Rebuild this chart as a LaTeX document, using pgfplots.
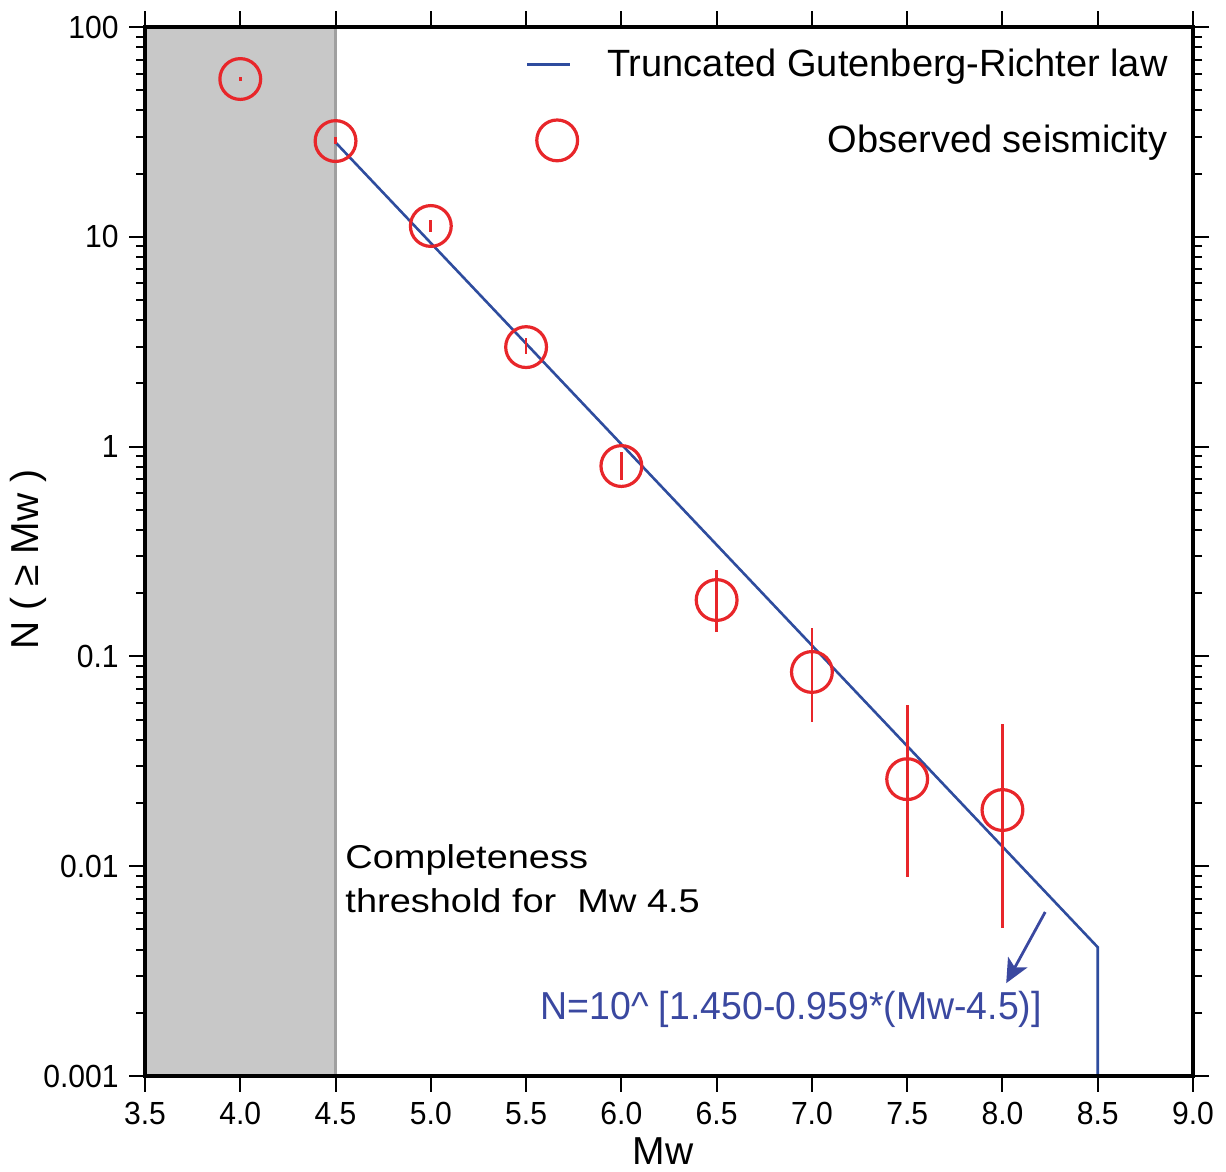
\documentclass[border=0pt]{standalone}
\usepackage{fontspec}
\setmainfont{Liberation Sans}
\newfontfamily\tickfont[FakeStretch=0.94]{Liberation Sans}
\newfontfamily\annfont[FakeStretch=1.15]{Liberation Sans}
\newfontfamily\formfont[FakeStretch=0.96]{Liberation Sans}
\usepackage{pgfplots}
\pgfplotsset{compat=1.18}
\usetikzlibrary{arrows.meta}
\definecolor{obsred}{HTML}{E8262A}
\definecolor{grblue}{HTML}{2E4C9E}
\definecolor{txtblue}{HTML}{3A48A0}
\definecolor{shade}{HTML}{C8C8C8}
\definecolor{shadeline}{HTML}{A0A0A0}

\pgfplotstableread{
x    y       ep      em
4.0  56.5    1.3     1.2
4.5  28.6    1.3     0.9
5.0  11.26   0.77    0.72
5.5  2.98    0.31    0.22
6.0  0.808   0.134   0.115
6.5  0.1857  0.072   0.055
7.0  0.0843  0.0523  0.0356
7.5  0.0260  0.0327  0.01715
8.0  0.01853 0.0291  0.01345
}\obsdata

\begin{document}
\begin{tikzpicture}
\begin{axis}[
  scale only axis, width=524pt, height=524.5pt,
  ymode=log, xmin=3.5, xmax=9.0, ymin=0.001, ymax=100,
  axis on top,
  axis line style={line width=2pt},
  tick style={line width=1pt, black},
  tick align=outside,
  major tick length=8pt, minor tick length=4.5pt,
  xtick={3.5,4,4.5,5,5.5,6,6.5,7,7.5,8,8.5,9},
  xticklabels={3.5,4.0,4.5,5.0,5.5,6.0,6.5,7.0,7.5,8.0,8.5,9.0},
  ytick={0.001,0.01,0.1,1,10,100},
  yticklabels={0.001,0.01,0.1,1,10,100},
  minor ytick={0.002,0.003,0.004,0.005,0.006,0.007,0.008,0.009,
               0.02,0.03,0.04,0.05,0.06,0.07,0.08,0.09,
               0.2,0.3,0.4,0.5,0.6,0.7,0.8,0.9,
               2,3,4,5,6,7,8,9,
               20,30,40,50,60,70,80,90},
  ticklabel style={font=\tickfont\fontsize{16}{19}\selectfont},
  /pgf/number format/assume math mode=true,
  xticklabel style={inner sep=0pt, anchor=north, yshift=-5pt},
  yticklabel style={inner sep=0pt, anchor=east, xshift=-5pt},
  xlabel={Mw},
  ylabel={N ( ≥ Mw )},
  label style={font=\fontsize{19.5}{23}\selectfont},
  xlabel style={at={(rel axis cs:0.5,0)}, anchor=north, inner sep=0pt, yshift=-30.5pt, xshift=-3pt},
  ylabel style={at={(rel axis cs:0,0.5)}, anchor=center, inner sep=0pt, yshift=58.5pt, xshift=-4pt},
  legend style={at={(rel axis cs:1,1)}, anchor=north east, xshift=-12.5pt, yshift=-7.5pt,
    draw=none, fill=none, inner sep=0pt, row sep=16pt, column sep=13pt,
    font=\fontsize{19}{23}\selectfont, nodes={inner sep=0pt}},
  legend cell align=right,
]
\addplot[draw=none, fill=shade, forget plot] coordinates {(3.5,0.001) (4.5,0.001) (4.5,100) (3.5,100)} -- cycle;
\addplot[shadeline, line width=1.5pt, forget plot] coordinates {(4.5,0.001) (4.5,100)};

\addplot[grblue, line width=1.3pt,
  legend image code/.code={\path[draw=none, fill=none] (0pt,-11pt) rectangle (27pt,11pt);
    \draw[grblue, line width=1.3pt] (0pt,0pt) -- (21.5pt,0pt);}]
  coordinates {(4.5,28.18) (8.5,0.00411) (8.5,0.001)};
\addlegendentry{Truncated Gutenberg-Richter law}

\addplot[only marks, obsred, mark=o, mark size=10.2pt, mark options={line width=1.6pt},
  legend image code/.code={\path[draw=none, fill=none] (0pt,-11pt) rectangle (27pt,11pt);
    \draw[obsred, mark=o, mark size=10.2pt, mark options={line width=1.6pt}] plot coordinates {(15pt,0pt)};},
  error bars/.cd, y dir=both, y explicit, error mark=none,
  error bar style={line width=1.4pt, obsred}]
  table[x=x, y=y, y error plus=ep, y error minus=em] {\obsdata};
\addlegendentry{Observed seismicity}

\node[anchor=base west, inner sep=0pt, font=\annfont\fontsize{16.5}{20}\selectfont] at (axis cs:4.55,0.0098) {Completeness};
\node[anchor=base west, inner sep=0pt, font=\annfont\fontsize{16.5}{20}\selectfont] at (axis cs:4.55,0.00604) {threshold for\ \ Mw 4.5};
\node[anchor=base west, inner sep=0pt, text=txtblue, font=\formfont\fontsize{19.5}{24}\selectfont] at (axis cs:5.5735,0.00185) {N=10\textasciicircum\ [1.450-0.959*(Mw-4.5)]};
\draw[txtblue, line width=1.4pt, -{Stealth[length=12pt, width=11pt, inset=3pt]}] (axis cs:8.2244,0.00605) -- (axis cs:8.0197,0.00277);

\coordinate (bl) at (rel axis cs:0,0);
\coordinate (tr) at (rel axis cs:1,1);
\end{axis}
\pgfresetboundingbox
\path ([xshift=-72.5pt, yshift=-47.5pt]bl) rectangle ([xshift=16.5pt, yshift=13.5pt]tr);
\end{tikzpicture}
\end{document}
